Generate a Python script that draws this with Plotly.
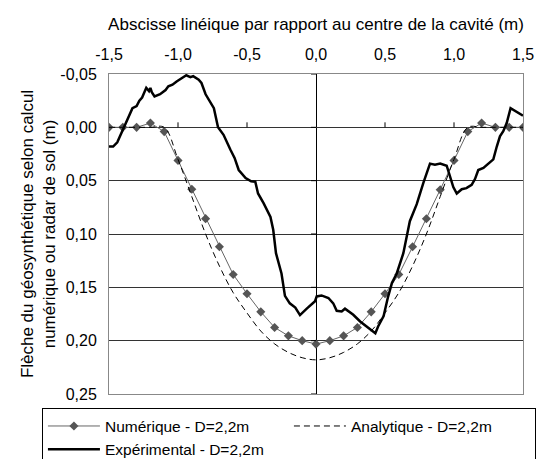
import plotly.graph_objects as go

# ---- data ----
num_x = [-1.5, -1.4, -1.3, -1.2, -1.1, -1.0, -0.9, -0.8, -0.7, -0.6, -0.5, -0.4, -0.3, -0.2, -0.1, 0.0,
         0.1, 0.2, 0.3, 0.4, 0.5, 0.6, 0.7, 0.8, 0.9, 1.0, 1.1, 1.2, 1.3, 1.4, 1.5]
num_y = [0.0, 0.0, 0.0, -0.004, 0.004, 0.031, 0.058, 0.0856, 0.112, 0.138, 0.156, 0.173, 0.1876, 0.1955, 0.200, 0.2032,
         0.200, 0.1955, 0.1876, 0.173, 0.156, 0.138, 0.112, 0.0857, 0.0585, 0.031, 0.004, -0.004, 0.0, 0.0, 0.0]

ana_x = [-1.5, -1.4, -1.3, -1.2, -1.1, -1.0, -0.9, -0.8, -0.7, -0.6, -0.5, -0.4, -0.3, -0.2, -0.1, 0.0,
         0.1, 0.2, 0.3, 0.4, 0.5, 0.6, 0.7, 0.8, 0.9, 1.0, 1.1, 1.2, 1.3, 1.4, 1.5]
ana_y = [0.0, 0.0, 0.0, 0.0, 0.0, 0.030, 0.065, 0.100, 0.130, 0.155, 0.174, 0.191, 0.203, 0.211, 0.216, 0.218,
         0.216, 0.211, 0.203, 0.191, 0.174, 0.155, 0.130, 0.100, 0.065, 0.030, 0.0, 0.0, 0.0, 0.0, 0.0]

exp_x = [-1.50, -1.47, -1.44, -1.42, -1.40, -1.38, -1.35, -1.33, -1.30, -1.28, -1.26, -1.23, -1.21, -1.20,
         -1.19, -1.17, -1.13, -1.09, -1.07, -1.04, -1.01, -0.97, -0.94, -0.91, -0.89, -0.85, -0.83, -0.80,
         -0.77, -0.74, -0.71, -0.67, -0.62, -0.59, -0.56, -0.51, -0.47, -0.44, -0.42, -0.38, -0.33, -0.31,
         -0.29, -0.25, -0.225, -0.19, -0.15, -0.116, -0.067, -0.007, 0.005, 0.04, 0.09, 0.125, 0.15, 0.186,
         0.21, 0.246, 0.27, 0.32, 0.367, 0.43, 0.45, 0.49, 0.52, 0.55, 0.585, 0.633, 0.68, 0.73, 0.778,
         0.826, 0.862, 0.90, 0.947, 0.97, 0.995, 1.02, 1.056, 1.09, 1.128, 1.152, 1.176, 1.213, 1.25, 1.285,
         1.31, 1.333, 1.357, 1.382, 1.41, 1.466, 1.50]
exp_y = [0.018, 0.018, 0.014, 0.008, 0.002, -0.003, -0.012, -0.018, -0.020, -0.025, -0.028, -0.037, -0.034, -0.037,
         -0.033, -0.029, -0.031, -0.035, -0.0385, -0.040, -0.043, -0.046, -0.0488, -0.047, -0.048, -0.0447, -0.0416, -0.031,
         -0.025, -0.018, 0.000, 0.007, 0.021, 0.0287, 0.040, 0.0475, 0.0506, 0.051, 0.062, 0.071, 0.084, 0.096,
         0.118, 0.137, 0.158, 0.165, 0.169, 0.176, 0.170, 0.163, 0.1585, 0.1576, 0.160, 0.165, 0.172, 0.1726,
         0.170, 0.173, 0.1757, 0.182, 0.1867, 0.193, 0.1867, 0.177, 0.160, 0.146, 0.137, 0.118, 0.088, 0.072, 0.052,
         0.034, 0.035, 0.034, 0.036, 0.046, 0.056, 0.062, 0.058, 0.057, 0.054, 0.0485, 0.040, 0.038, 0.0335, 0.030,
         0.018, 0.0084, 0.0037, -0.004, -0.018, -0.0135, -0.011]

x_ticks = [-1.5, -1.0, -0.5, 0.0, 0.5, 1.0, 1.5]
x_tick_labels = ["-1,5", "-1,0", "-0,5", "0,0", "0,5", "1,0", "1,5"]
y_ticks = [-0.05, 0.0, 0.05, 0.10, 0.15, 0.20, 0.25]
y_tick_labels = ["-0,05", "0,00", "0,05", "0,10", "0,15", "0,20", "0,25"]

FONT = "Liberation Sans, Arial, sans-serif"

fig = go.Figure()
fig.add_trace(go.Scatter(x=num_x, y=num_y, mode="lines+markers", name="Numérique - D=2,2m",
                         line=dict(color="#666666", width=1),
                         marker=dict(symbol="diamond", size=7, color="#555555")))
fig.add_trace(go.Scatter(x=ana_x, y=ana_y, mode="lines", name="Analytique - D=2,2m",
                         line=dict(color="black", width=1, dash="6px,4px"), line_shape="spline"))
fig.add_trace(go.Scatter(x=exp_x, y=exp_y, mode="lines", name="Expérimental - D=2,2m",
                         line=dict(color="black", width=2.5)))

# small tick marks on the axes crossing at the origin (Excel style)
for xv in x_ticks[1:-1]:
    if xv != 0.0:
        fig.add_shape(type="line", xref="x", yref="y", x0=xv, x1=xv, ysizemode="pixel", yanchor=0,
                      y0=0, y1=5, line=dict(color="black", width=1))
for yv in y_ticks:
    fig.add_shape(type="line", xref="x", yref="y", y0=yv, y1=yv, xsizemode="pixel", xanchor=0,
                  x0=-5, x1=0, line=dict(color="black", width=1))

fig.update_layout(
    width=537, height=459,
    margin=dict(l=109, r=14, t=74, b=65, autoexpand=False),
    paper_bgcolor="white", plot_bgcolor="white",
    font=dict(family=FONT, size=16, color="black"),
    showlegend=True,
    legend=dict(orientation="h", x=-0.162, xanchor="left", y=-0.045, yanchor="top",
                bordercolor="black", borderwidth=1, bgcolor="white",
                entrywidth=179, entrywidthmode="pixels", font=dict(size=15.5),
                tracegroupgap=0, itemwidth=52),
    xaxis=dict(side="top", range=[-1.5, 1.5], tickvals=x_ticks, ticktext=x_tick_labels,
               showgrid=False, zeroline=True, zerolinecolor="black", zerolinewidth=1,
               showline=True, linecolor="#888888", linewidth=1, mirror=True,
               ticks="", ticklabelstandoff=7,
               title=dict(text="Abscisse linéique par rapport au centre de la cavité (m)",
                          standoff=10, font=dict(size=17))),
    yaxis=dict(range=[0.25, -0.05], tickvals=y_ticks, ticktext=y_tick_labels,
               showgrid=True, gridcolor="#333333", gridwidth=1,
               zeroline=True, zerolinecolor="#333333", zerolinewidth=1,
               showline=True, linecolor="#888888", linewidth=1, mirror=True,
               ticks="", ticklabelstandoff=8,
               title=dict(text="Flèche du géosynthétique selon calcul<br>numérique ou radar de sol (m)",
                          standoff=0, font=dict(size=17))),
)

fig.write_html("out.html", config={"displayModeBar": False},
               post_script="document.body.style.margin='0';")
